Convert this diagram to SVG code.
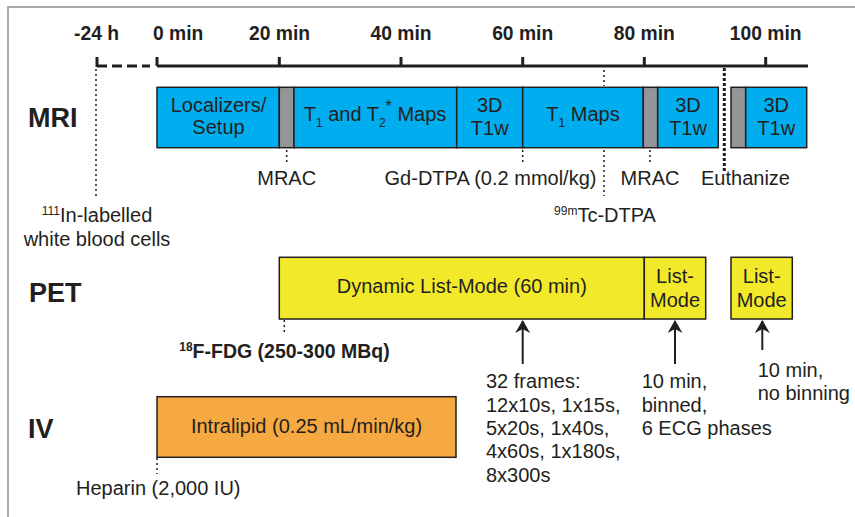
<svg xmlns="http://www.w3.org/2000/svg" width="855" height="517" viewBox="0 0 855 517">
<style>
text{font-family:"Liberation Sans",Arial,sans-serif;fill:#231f20}
.t{font-size:20px}
.ax{font-size:19.3px;font-weight:bold}
.fdg{font-size:19.5px;font-weight:bold}
.lab{font-size:27px;font-weight:bold}
.m{text-anchor:middle}
.sm{font-size:12px}
.box{stroke:#231f20;stroke-width:1.5}
.blue{fill:#00aeef}
.gray{fill:#939598}
.yel{fill:#f3e92b}
.org{fill:#f7a941}
.dot{stroke:#231f20;stroke-width:1.5;stroke-dasharray:2 3;fill:none}
.axis{stroke:#231f20;stroke-width:3;fill:none}
.arr{stroke:#231f20;stroke-width:2;fill:none;marker-end:url(#ah)}
</style>
<defs>
<marker id="ah" viewBox="0 0 13 15" refX="12" refY="7.5" markerWidth="13" markerHeight="15" markerUnits="userSpaceOnUse" orient="auto">
<path d="M0,0 L13,7.5 L0,15 L4,7.5 Z" fill="#231f20"/>
</marker>
</defs>
<rect width="855" height="517" fill="#ffffff"/>
<path d="M8,517 V7 H855" fill="none" stroke="#aaaaaa" stroke-width="2"/>

<g id="axis">
<path class="axis" d="M157,66 H808"/>
<path class="axis" d="M97,66 H150" stroke-dasharray="10 5"/>
<path class="axis" d="M97,57 V67 M157,57 V66 M279.3,57 V66 M401,57 V66 M522.7,57 V66 M644.3,57 V66 M765.7,57 V66"/>
<text class="ax m" x="96.5" y="40">-24 h</text>
<text class="ax" x="153" y="40">0 min</text>
<text class="ax m" x="279.5" y="40">20 min</text>
<text class="ax m" x="401" y="40">40 min</text>
<text class="ax m" x="522.7" y="40">60 min</text>
<text class="ax m" x="644.3" y="40">80 min</text>
<text class="ax m" x="765.7" y="40">100 min</text>
</g>

<g id="row-labels">
<text class="lab" x="28" y="127">MRI</text>
<text class="lab" x="29" y="302">PET</text>
<text class="lab" x="28" y="438">IV</text>
</g>

<g id="connectors">
<path class="dot" d="M96,69 V197"/>
<path class="dot" d="M604,70 V86 M604,150 V196"/>
<path class="dot" d="M286.7,150 V165"/>
<path class="dot" d="M522.7,150 V163"/>
<path class="dot" d="M650,150 V163"/>
<path d="M724.3,68 V172" stroke="#231f20" stroke-width="3" stroke-dasharray="3 2" fill="none"/>
<path class="dot" d="M284.3,320 V335"/>
<path class="dot" d="M157,458 V474"/>
<path class="arr" d="M522.7,364 V321"/>
<path class="arr" d="M675,364 V321"/>
<path class="arr" d="M762.3,350 V321"/>
</g>

<g id="mri-localizers">
<rect class="box blue" x="157" y="87.3" width="122.3" height="60.4"/>
<text class="t m" x="218.5" y="111.5">Localizers/</text>
<text class="t m" x="218.5" y="133.5">Setup</text>
</g>
<g id="mri-mrac1"><rect class="box gray" x="279.3" y="87.3" width="14.7" height="60.4"/></g>
<g id="mri-t1t2">
<rect class="box blue" x="294" y="87.3" width="162.7" height="60.4"/>
<text class="t m" x="375" y="120.5">T<tspan class="sm" dy="6">1</tspan><tspan dy="-6"> and T</tspan><tspan class="sm" dy="6">2</tspan><tspan font-size="16" dy="-15">*</tspan><tspan dy="9"> Maps</tspan></text>
</g>
<g id="mri-3d1">
<rect class="box blue" x="456.7" y="87.3" width="66" height="60.4"/>
<text class="t m" x="489.7" y="111.5">3D</text>
<text class="t m" x="489.7" y="135">T1w</text>
</g>
<g id="mri-t1">
<rect class="box blue" x="522.7" y="87.3" width="120.6" height="60.4"/>
<text class="t m" x="583" y="120.5">T<tspan class="sm" dy="6">1</tspan><tspan dy="-6"> Maps</tspan></text>
</g>
<g id="mri-mrac2"><rect class="box gray" x="643.3" y="87.3" width="14.4" height="60.4"/></g>
<g id="mri-3d2">
<rect class="box blue" x="657.7" y="87.3" width="60.6" height="60.4"/>
<text class="t m" x="688" y="111.5">3D</text>
<text class="t m" x="688" y="135">T1w</text>
</g>
<g id="mri-mrac3"><rect class="box gray" x="731" y="87.3" width="14.7" height="60.4"/></g>
<g id="mri-3d3">
<rect class="box blue" x="745.7" y="87.3" width="61" height="60.4"/>
<text class="t m" x="776.2" y="111.5">3D</text>
<text class="t m" x="776.2" y="135">T1w</text>
</g>

<g id="mri-annotations">
<text class="t m" x="286.7" y="185">MRAC</text>
<text class="t m" x="490.5" y="185">Gd-DTPA (0.2 mmol/kg)</text>
<text class="t m" x="650" y="185">MRAC</text>
<text class="t m" x="745.5" y="185">Euthanize</text>
<text class="t m" x="605" y="221.7"><tspan class="sm" dy="-7">99m</tspan><tspan dy="7">Tc-DTPA</tspan></text>
<text class="t m" x="97" y="221.7"><tspan class="sm" dy="-7">111</tspan><tspan dy="7">In-labelled</tspan></text>
<text class="t m" x="97" y="245.7">white blood cells</text>
</g>

<g id="pet-dynamic">
<rect class="box yel" x="279.3" y="257.3" width="365" height="61.7"/>
<text class="t m" x="461.8" y="293.3">Dynamic List-Mode (60 min)</text>
</g>
<g id="pet-list1">
<rect class="box yel" x="644.3" y="257.3" width="61.4" height="61.7"/>
<text class="t m" x="675" y="283.3">List-</text>
<text class="t m" x="675" y="306.7">Mode</text>
</g>
<g id="pet-list2">
<rect class="box yel" x="731" y="257.3" width="61.3" height="61.7"/>
<text class="t m" x="761.7" y="283.3">List-</text>
<text class="t m" x="761.7" y="306.7">Mode</text>
</g>

<g id="pet-annotations">
<text class="fdg m" x="284.5" y="358.3"><tspan class="sm" dy="-7">18</tspan><tspan dy="7">F-FDG (250-300 MBq)</tspan></text>
<text class="t" x="486" y="388.3">32 frames:</text>
<text class="t" x="486" y="411.7">12x10s, 1x15s,</text>
<text class="t" x="486" y="435">5x20s, 1x40s,</text>
<text class="t" x="486" y="458.3">4x60s, 1x180s,</text>
<text class="t" x="486" y="481.7">8x300s</text>
<text class="t" x="641.7" y="388.3">10 min,</text>
<text class="t" x="641.7" y="411.7">binned,</text>
<text class="t" x="641.7" y="435">6 ECG phases</text>
<text class="t" x="757.7" y="377">10 min,</text>
<text class="t" x="757.7" y="400">no binning</text>
</g>

<g id="iv-intralipid">
<rect class="box org" x="157" y="396.7" width="299" height="60.6"/>
<text class="t m" x="306.5" y="432.7">Intralipid (0.25 mL/min/kg)</text>
</g>
<g id="iv-annotations">
<text class="t" x="76" y="495">Heparin (2,000 IU)</text>
</g>
</svg>
